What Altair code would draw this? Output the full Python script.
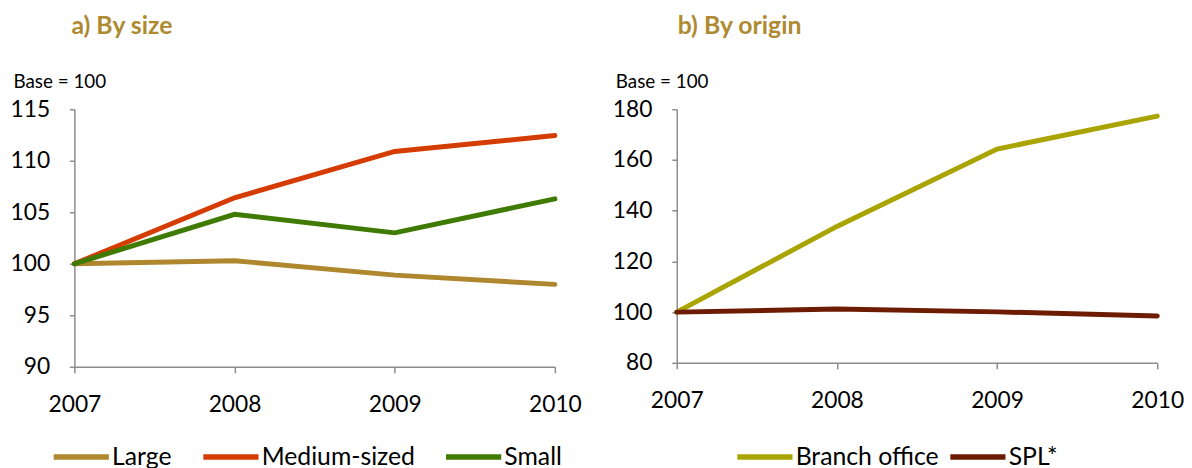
import altair as alt
import pandas as pd

years = ["2007", "2008", "2009", "2010"]

size_series = ["Large", "Medium-sized", "Small"]
large = [100.0, 100.3, 98.9, 98.0]
medium = [100.0, 106.4, 110.9, 112.45]
small = [100.0, 104.8, 103.0, 106.3]
size_colors = ["#AF872E", "#D43C02", "#3F7B02"]

origin_series = ["Branch office", "SPL*"]
branch = [100.0, 133.8, 164.3, 177.3]
spl = [100.0, 101.2, 100.1, 98.5]
origin_colors = ["#A9A400", "#6D1C02"]

FONT = "Lato"
TITLE_COLOR = "#AE8A31"
AXIS_GRAY = "#8C8C8C"

df_size = pd.DataFrame(
    [(y, s, v) for s, vals in zip(size_series, [large, medium, small]) for y, v in zip(years, vals)],
    columns=["year", "series", "value"],
)
df_origin = pd.DataFrame(
    [(y, s, v) for s, vals in zip(origin_series, [branch, spl]) for y, v in zip(years, vals)],
    columns=["year", "series", "value"],
)


def panel(df, series, colors, domain, step, title, legend_x, col_pad, title_dx, height):
    x = alt.X(
        "year:O",
        scale=alt.Scale(domain=years, padding=0),
        axis=alt.Axis(
            title=None, labelAngle=0, domainColor=AXIS_GRAY, tickColor=AXIS_GRAY,
            domainWidth=1.5, tickWidth=1.5, tickSize=6, labelPadding=21,
            labelFontSize=23, labelFont=FONT, labelColor="#000000", grid=False,
        ),
    )
    y = alt.Y(
        "value:Q",
        scale=alt.Scale(domain=domain, nice=False, zero=False),
        axis=alt.Axis(
            title="Base = 100", titleAngle=0, titleAlign="left", titleBaseline="alphabetic",
            titleX=-62, titleY=-22, titleFont=FONT, titleFontSize=19, titleFontWeight="normal",
            titleColor="#000000",
            values=list(range(domain[0], domain[1] + 1, step)),
            domainColor=AXIS_GRAY, tickColor=AXIS_GRAY, domainWidth=1.5, tickWidth=1.5,
            tickSize=5, labelPadding=20, labelFontSize=23, labelFont=FONT,
            labelColor="#000000", grid=False,
        ),
    )
    color = alt.Color(
        "series:N",
        scale=alt.Scale(domain=series, range=colors),
        legend=alt.Legend(
            title=None, orient="none", direction="horizontal", legendX=legend_x, legendY=320,
            symbolType="stroke", symbolSize=3100, symbolStrokeWidth=5.5, labelOffset=0,
            columnPadding=col_pad, labelFontSize=25, labelFont=FONT, labelColor="#000000",
            padding=0,
        ),
    )
    return (
        alt.Chart(df)
        .mark_line(strokeWidth=5, strokeCap="round")
        .encode(x=x, y=y, color=color, order="year:O")
        .properties(
            width=485,
            height=height,
            title=alt.TitleParams(
                title, anchor="start", frame="group", font=FONT, fontSize=25,
                fontWeight="bold", color=TITLE_COLOR, dx=title_dx, offset=34,
            ),
        )
    )


left = panel(df_size, size_series, size_colors, [90, 115], 5, "a) By size", -24, 20, -3, 260)
right = panel(df_origin, origin_series, origin_colors, [80, 180], 20, "b) By origin", 58, 0, 1, 256)

chart = (
    alt.hconcat(left, right, spacing=30)
    .resolve_scale(color="independent", x="independent", y="independent")
    .properties(padding={"left": 1, "top": 4, "right": 0, "bottom": 0})
    .configure_view(stroke=None)
)

chart.save("out.html", embed_options={"renderer": "svg", "actions": False})
